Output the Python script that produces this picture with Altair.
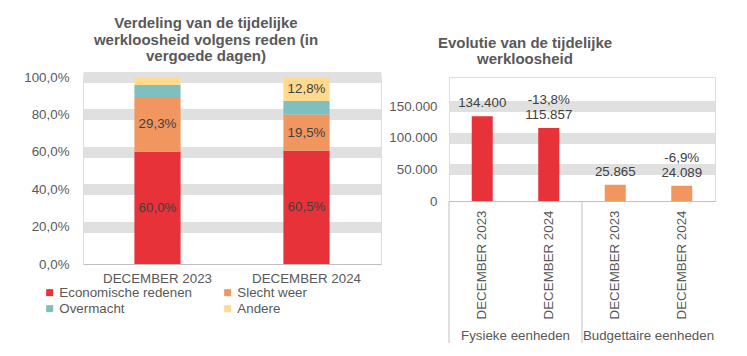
import altair as alt
import pandas as pd

# ---------------- data ----------------
months = ["DECEMBER 2023", "DECEMBER 2024"]
reasons = ["Economische redenen", "Slecht weer", "Overmacht", "Andere"]
share_2023 = [0.600, 0.293, 0.064, 0.043]
share_2024 = [0.605, 0.195, 0.072, 0.128]
reason_colors = ["#E8323A", "#F0965E", "#7FBFBF", "#FFD98E"]

groups = ["Fysieke eenheden", "Budgettaire eenheden"]
fysiek = [134400, 115857]
budget = [25865, 24089]
change_fysiek = ["", "-13,8%"]
change_budget = ["", "-6,9%"]
group_colors = ["#E8323A", "#F0965E"]

# ---------------- styles ----------------
FONT = "Liberation Sans"
AX = "#595959"
LBL = "#404040"
GRID = "#E0E0E0"
LINE = "#BFBFBF"
FS = 13.33
TFS = 15

rows = []
for m, shares in zip(months, [share_2023, share_2024]):
    for i, (r, s) in enumerate(zip(reasons, shares)):
        rows.append({"month": m, "reason": r, "order": i, "share": s})
left_df = pd.DataFrame(rows)

right_rows = []
for g, vals, ch, col in zip(groups, [fysiek, budget], [change_fysiek, change_budget], group_colors):
    for m, v, c in zip(months, vals, ch):
        right_rows.append({"key": g + "|" + m, "group": g, "month": m,
                           "value": v, "change": c, "fill": col})
right_df = pd.DataFrame(right_rows)
keys = list(right_df["key"])
group_df = pd.DataFrame({"group": groups})

grid_op = {"condition": {"test": "datum.value == 0", "value": 0}, "value": 1}

# ---------------- left chart ----------------
left_y_axis = alt.Axis(values=[0, 0.2, 0.4, 0.6, 0.8, 1],
                       labelExpr="replace(format(datum.value, '.1%'), '.', ',')",
                       title=None, domain=False, ticks=False, labelPadding=14,
                       labelOverlap=False, labelColor=AX, labelFontSize=FS,
                       labelFont=FONT, grid=True, gridWidth=11, gridColor=GRID,
                       gridOpacity=grid_op)
left_x = alt.X(
    "month:N", sort=months,
    scale=alt.Scale(paddingInner=0.69, paddingOuter=0.345),
    axis=alt.Axis(title=None, labelAngle=0, ticks=False, domainColor=LINE,
                  labelColor=AX, labelFontSize=FS, labelFont=FONT, labelPadding=7),
)
base_left = alt.Chart(left_df)
bars_left = base_left.mark_bar().encode(
    x=left_x,
    y=alt.Y("share:Q", stack="zero", scale=alt.Scale(domain=[0, 1]), axis=left_y_axis),
    color=alt.Color(
        "reason:N", sort=reasons,
        scale=alt.Scale(domain=reasons, range=reason_colors),
        legend=alt.Legend(orient="none", legendX=-40, legendY=209, columns=2,
                          direction="horizontal",
                          columnPadding=29, rowPadding=2, symbolType="square",
                          symbolSize=49, symbolStrokeWidth=0, labelFontSize=FS,
                          labelColor=AX, labelFont=FONT, labelOffset=3,
                          title=None, padding=0),
    ),
    order=alt.Order("order:Q"),
)
text_left = (
    base_left
    .transform_stack(stack="share", groupby=["month"], sort=[alt.SortField("order")],
                     as_=["s0", "s1"])
    .transform_calculate(mid="(datum.s0 + datum.s1) / 2",
                         lab="replace(format(datum.share, '.1%'), '.', ',')")
    .transform_filter("datum.share >= 0.1")
    .mark_text(font=FONT, fontSize=FS, color=LBL, baseline="middle")
    .encode(x=left_x, y=alt.Y("mid:Q", axis=left_y_axis), text="lab:N")
)
left = alt.layer(bars_left, text_left).properties(
    width=298, height=187,
    title=alt.TitleParams(
        ["Verdeling van de tijdelijke", "werkloosheid volgens reden (in", "vergoede dagen)"],
        fontSize=TFS, font=FONT, fontWeight="bold", color=AX, anchor="middle",
        dx=-26, offset=6, lineHeight=16.5),
)

# ---------------- right chart ----------------
right_x = alt.X(
    "key:N", sort=keys,
    scale=alt.Scale(paddingInner=0.684, paddingOuter=0.342),
    axis=alt.Axis(title=None, labelAngle=270, ticks=False, domainColor=LINE,
                  labelExpr="split(datum.label, '|')[1]",
                  labelColor=AX, labelFontSize=FS, labelFont=FONT, labelPadding=9),
)
right_y_axis = alt.Axis(values=[0, 50000, 100000, 150000],
                        labelExpr="replace(format(datum.value, ','), ',', '.')",
                        title=None, domain=False, ticks=False, labelPadding=12,
                        labelOverlap=False, labelColor=AX, labelFontSize=FS,
                        labelFont=FONT, grid=True, gridWidth=11, gridColor=GRID,
                        gridOpacity=grid_op)
right_y = alt.Y("value:Q", scale=alt.Scale(domain=[0, 196825], nice=False),
                axis=right_y_axis)
base_right = alt.Chart(right_df)
bars_right = base_right.mark_bar().encode(
    x=right_x, y=right_y, color=alt.Color("fill:N", scale=None))
val_text = base_right.transform_calculate(
    lab="replace(format(datum.value, ','), ',', '.')"
).mark_text(font=FONT, fontSize=FS, color=LBL, baseline="middle", dy=-13).encode(
    x=right_x, y=right_y, text="lab:N")
chg_text = base_right.mark_text(font=FONT, fontSize=FS, color=LBL, baseline="middle",
                                dy=-28).encode(
    x=right_x, y=right_y, text="change:N")
main_right = alt.layer(bars_right, val_text, chg_text)

gscale = alt.Scale(paddingInner=0, paddingOuter=0)
sep = alt.Chart(group_df).mark_rule(color=LINE, strokeWidth=1).encode(
    x=alt.X("group:N", sort=groups, bandPosition=0, scale=gscale, axis=None),
    y=alt.value(124), y2=alt.value(266))
glab = alt.Chart(group_df).mark_text(font=FONT, fontSize=FS, color=AX,
                                     baseline="middle").encode(
    x=alt.X("group:N", sort=groups, scale=gscale, axis=None),
    y=alt.value(259), text="group:N")
group_layer = alt.layer(sep, glab)

right = (
    alt.layer(main_right, group_layer)
    .resolve_scale(x="independent")
    .properties(
        width=266, height=124,
        title=alt.TitleParams(
            ["Evolutie van de tijdelijke", "werkloosheid"],
            fontSize=TFS, font=FONT, fontWeight="bold", color=AX, anchor="middle",
            dx=-57, offset=10, lineHeight=16.5),
    )
)

chart = (
    alt.hconcat(left, right, spacing=68, bounds="flush")
    .properties(padding={"left": 15, "top": 7, "right": 5, "bottom": 5},
                background="white")
    .configure_view(stroke=None)
    .configure(font=FONT)
)

chart.save("out.html", embed_options={"renderer": "svg", "actions": False})
